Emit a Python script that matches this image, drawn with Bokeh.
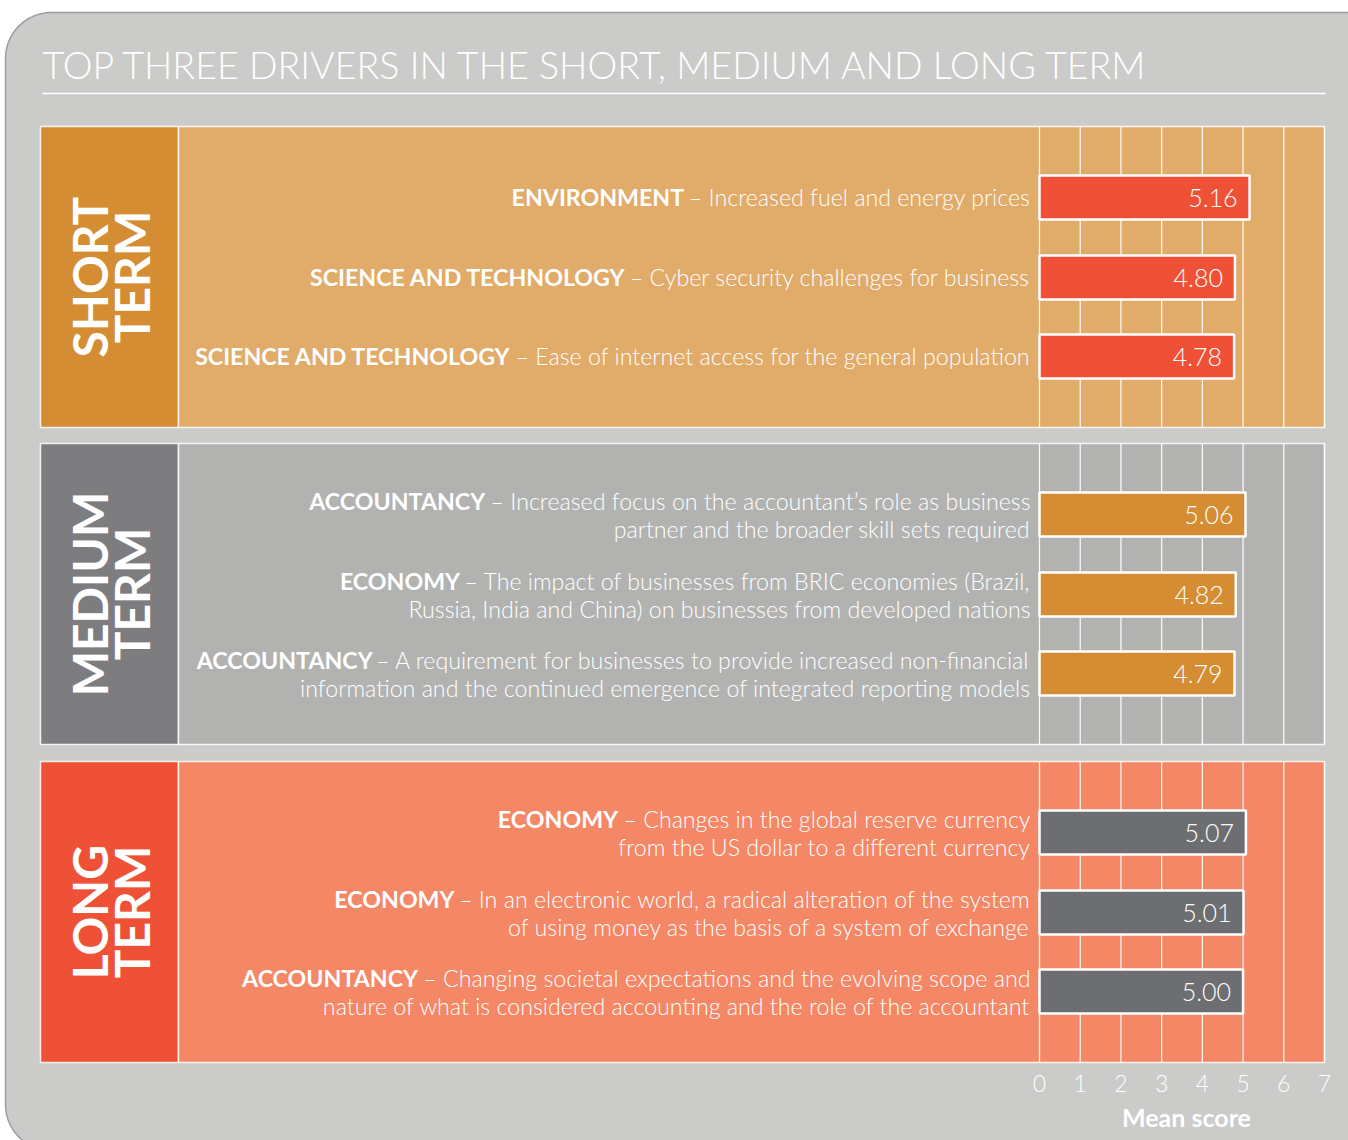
import subprocess, glob, math
import numpy as np
from bokeh.plotting import figure
from bokeh.models import Range1d
from bokeh.core.properties import value
from bokeh.embed import file_html
from bokeh.resources import INLINE

# ---------------- data ----------------
TITLE = "TOP THREE DRIVERS IN THE SHORT, MEDIUM AND LONG TERM"
term_words = [["SHORT", "TERM"], ["MEDIUM", "TERM"], ["LONG", "TERM"]]

short_categories = ["ENVIRONMENT", "SCIENCE AND TECHNOLOGY", "SCIENCE AND TECHNOLOGY"]
short_texts = [
    ["– Increased fuel and energy prices"],
    ["– Cyber security challenges for business"],
    ["– Ease of internet access for the general population"],
]
short_scores = [5.16, 4.80, 4.78]

medium_categories = ["ACCOUNTANCY", "ECONOMY", "ACCOUNTANCY"]
medium_texts = [
    ["– Increased focus on the accountant’s role as business",
     "partner and the broader skill sets required"],
    ["– The impact of businesses from BRIC economies (Brazil,",
     "Russia, India and China) on businesses from developed nations"],
    ["– A requirement for businesses to provide increased non-financial",
     "information and the continued emergence of integrated reporting models"],
]
medium_scores = [5.06, 4.82, 4.79]

long_categories = ["ECONOMY", "ECONOMY", "ACCOUNTANCY"]
long_texts = [
    ["– Changes in the global reserve currency",
     "from the US dollar to a different currency"],
    ["– In an electronic world, a radical alteration of the system",
     "of using money as the basis of a system of exchange"],
    ["– Changing societal expectations and the evolving scope and",
     "nature of what is considered accounting and the role of the accountant"],
]
long_scores = [5.07, 5.01, 5.00]

ticks = [0, 1, 2, 3, 4, 5, 6, 7]
axis_label = "Mean score"

# ---------------- styling / layout ----------------
W, H = 1348, 1140
LIGHT = "Lato Light, Lato"
BOLD = "Lato"
label_block_colors = ["#d48d33", "#7d7d80", "#ef5136"]
panel_colors = ["#e1ab6a", "#b2b2b1", "#f48766"]
bar_colors = ["#ef5137", "#d48d33", "#6d6e71"]
BG = "#cbcbc9"

PANEL_TOPS = [126, 443, 761]
PANEL_H = 301
P_LEFT, P_SPLIT, P_RIGHT = 40, 178, 1324
CHART_L = 1039
ROW_OFF = [71, 151, 230]
BAR_H = 44
TEXT_RIGHT = 1030
PPU = (P_RIGHT - CHART_L) / 7.0
BASE_K = 0.38  # baseline correction factor (fraction of font size)


def bl(y, size):
    """requested y so that the rendered baseline lands at y"""
    return y - BASE_K * size


def _font_path(pat, globpat):
    try:
        out = subprocess.run(["fc-match", "-f", "%{file}", pat], capture_output=True,
                             text=True, timeout=5).stdout.strip()
        if out and "Lato" in out:
            return out
    except Exception:
        pass
    c = glob.glob("/usr/share/fonts/**/" + globpat, recursive=True)
    return c[0] if c else None


_paths = {"light": _font_path("Lato:light", "Lato-Light.ttf"),
          "bold": _font_path("Lato:bold", "Lato-Bold.ttf")}
_cache = {}


def tw(s, kind, size):
    try:
        from PIL import ImageFont
        key = (kind, size)
        if key not in _cache:
            _cache[key] = ImageFont.truetype(_paths[kind], size)
        return _cache[key].getlength(s)
    except Exception:
        return len(s) * size * (0.62 if kind == "bold" else 0.47)


# fit sizes to measured reference widths
TITLE_SIZE = round(40 * 1105 / max(tw(TITLE, "light", 40), 1), 1)
LBL = 22
ref_b = tw(short_categories[2], "bold", LBL) + tw(" ", "light", LBL) + tw(short_texts[2][0], "light", LBL)
LBL = max(19, min(25, round(LBL * 835 / ref_b, 1)))
VAL = 25
SIDE = 48
TICK = 23
AXL = 25

p = figure(width=W, height=H, x_range=Range1d(0, W), y_range=Range1d(H, 0),
           output_backend="svg", toolbar_location=None, min_border=0,
           background_fill_color="white", border_fill_color="white", outline_line_color=None)
p.axis.visible = False
p.grid.visible = False
p.extra_x_ranges = {"score": Range1d(start=(0 - CHART_L) / PPU, end=(W - CHART_L) / PPU)}

# rounded background box
L, T, R, B, RAD = 5, 12, 1392, 1150, 46
def arc(cx, cy, a0, a1):
    a = np.linspace(a0, a1, 24)
    return cx + RAD * np.cos(a), cy + RAD * np.sin(a)
xs, ys = [], []
for cx, cy, a0, a1 in [(L + RAD, T + RAD, math.pi, 1.5 * math.pi),
                       (R - RAD, T + RAD, 1.5 * math.pi, 2 * math.pi),
                       (R - RAD, B - RAD, 0, 0.5 * math.pi),
                       (L + RAD, B - RAD, 0.5 * math.pi, math.pi)]:
    ax, ay = arc(cx, cy, a0, a1)
    xs += list(ax); ys += list(ay)
p.patch(xs, ys, fill_color=BG, line_color="#9d9d9d", line_width=1.5)

# title
p.text(x=[42], y=[bl(78, TITLE_SIZE)], text=[TITLE], text_font=value(LIGHT),
       text_font_size=f"{TITLE_SIZE}px", text_color="white", text_align="left",
       text_baseline="alphabetic")
p.segment(x0=[42], y0=[93], x1=[1325], y1=[93], line_color="white", line_width=1.5)

panels = [(short_categories, short_texts, short_scores),
          (medium_categories, medium_texts, medium_scores),
          (long_categories, long_texts, long_scores)]

for i, (cats, texts, scores) in enumerate(panels):
    top = PANEL_TOPS[i]
    bot = top + PANEL_H
    p.quad(left=[P_LEFT], right=[P_SPLIT], top=[top], bottom=[bot],
           fill_color=label_block_colors[i], line_color="white", line_alpha=0.85, line_width=1.5)
    p.quad(left=[P_SPLIT], right=[P_RIGHT], top=[top], bottom=[bot],
           fill_color=panel_colors[i], line_color="white", line_alpha=0.85, line_width=1.5)
    # grid lines on the score scale
    p.segment(x0=ticks, x1=ticks, y0=[top] * len(ticks), y1=[bot] * len(ticks),
              x_range_name="score", line_color="white", line_width=1.3, line_alpha=0.9)
    ycs = [top + o for o in ROW_OFF]
    p.hbar(y=ycs, left=0, right=scores, height=BAR_H, x_range_name="score",
           fill_color=bar_colors[i], line_color="white", line_width=2.5)
    p.text(x=scores, y=[bl(y + 10, VAL) for y in ycs], text=[f"{s:.2f}" for s in scores],
           x_range_name="score", x_offset=-12, text_font=value(LIGHT), text_font_size=f"{VAL}px",
           text_color="white", text_align="right", text_baseline="alphabetic")
    # descriptions
    for j, (cat, lines) in enumerate(zip(cats, texts)):
        yc = ycs[j]
        bases = [yc + 8] if len(lines) == 1 else [yc - 5, yc + 23]
        bases = [bl(b, LBL) for b in bases]
        p.text(x=[TEXT_RIGHT] * len(lines), y=bases, text=lines, text_font=value(LIGHT),
               text_font_size=f"{LBL}px", text_color="white", text_align="right",
               text_baseline="alphabetic")
        off = tw(lines[0], "light", LBL) + 0.85 * tw(" ", "light", LBL)
        p.text(x=[TEXT_RIGHT - off], y=[bases[0]], text=[cat], text_font=value(BOLD),
               text_font_style="bold", text_font_size=f"{LBL}px", text_color="white",
               text_align="right", text_baseline="alphabetic")
    # side label (rotated, reading upwards)
    yc = top + PANEL_H / 2
    p.text(x=[108 - BASE_K * SIDE - 1, 150 - BASE_K * SIDE - 1], y=[yc, yc], text=term_words[i],
           angle=math.pi / 2, text_font=value(BOLD), text_font_style="bold",
           text_font_size=f"{SIDE}px", text_color="white", text_align="center",
           text_baseline="alphabetic")

# tick labels and axis title
p.text(x=ticks, y=[bl(1092, TICK)] * len(ticks), text=[str(t) for t in ticks], x_range_name="score",
       text_font=value(LIGHT), text_font_size=f"{TICK}px", text_color="white",
       text_align="center", text_baseline="alphabetic")
p.text(x=[1186], y=[bl(1126, AXL)], text=[axis_label], text_font=value(BOLD), text_font_style="bold",
       text_font_size=f"{AXL}px", text_color="white", text_align="center", text_baseline="alphabetic")

open("out.html", "w").write(file_html(p, INLINE))
